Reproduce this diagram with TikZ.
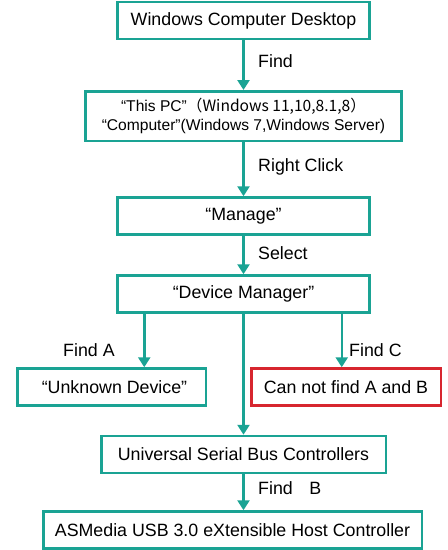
\documentclass[tikz,border=0pt]{standalone}
\usepackage{fontspec}
\setmainfont{Liberation Sans}
\newfontfamily\cjk{Noto Sans CJK SC}
\usetikzlibrary{arrows.meta}
\definecolor{teal1}{HTML}{1AA394}
\definecolor{red1}{HTML}{D7262F}

\begin{document}
\begin{tikzpicture}[x=1pt, y=-1pt, font=\fontsize{17.8}{20}\selectfont,
  box/.style={draw=teal1, line width=2.5pt, minimum height=37pt, inner sep=0pt},
  lab/.style={anchor=west, inner sep=0pt}]
\useasboundingbox (0,0) rectangle (448,550);

\node[box, minimum width=252pt] (a0) at (243.5,20.5) {Windows Computer Desktop};
\node[box, minimum width=316pt, minimum height=49.5pt, align=center,
  font=\fontsize{15.6}{19}\selectfont] (a1) at (243.5,116)
  {“This PC”\cjk{（}Windows 11,10,8.1,8\cjk{）}\\“Computer”(Windows 7,Windows Server)};
\node[box, minimum width=252pt] (a2) at (243.5,216) {“Manage”};
\node[box, minimum width=252pt] (a3) at (243.5,294) {“Device Manager”};

\node[box, minimum width=188.5pt] (a4) at (111.5,387) {\hspace{6pt}“Unknown Device”};
\node[box, draw=red1, minimum width=189.5pt] (a5) at (346,387) {Can not find A and B};

\node[box, minimum width=284.5pt] (a6) at (243.5,454.5) {Universal Serial Bus Controllers};
\node[box, minimum width=378.5pt] (a7) at (232.5,530) {ASMedia USB 3.0 eXtensible Host Controller};

\node[lab] (l0) at (258,61) {Find};
\node[lab] (l1) at (258,167) {Right Click};
\node[lab] (l2) at (258,253) {Select};
\node[lab] (l3) at (63,350) {Find A};
\node[lab] (l4) at (349,350) {Find C};
\node[lab] (l5) at (258,488) {Find\hspace{0.65em} B};

\begin{scope}[-{Triangle[width=12pt,length=10pt]}, draw=teal1, line width=2.5pt]
\foreach \s/\t in {a0/a1, a1/a2, a2/a3, a3/a6}
	\draw (\s.south) -- (\t.north);
\draw (a6.south) -- (a6.south |- a7.north);
\draw ([xshift=28pt]a3.south west) -- ([xshift=28pt]a3.south west |- a4.north);
\draw ([xshift=-29pt]a3.south east) -- ([xshift=-29pt]a3.south east |- a5.north);
\end{scope}

\end{tikzpicture}
\end{document}
